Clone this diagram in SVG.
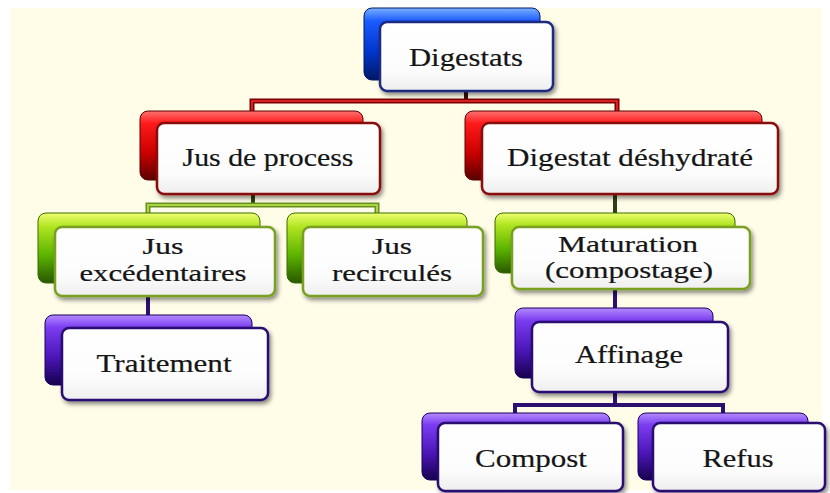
<svg xmlns="http://www.w3.org/2000/svg" width="830" height="493" viewBox="0 0 830 493">
  <defs>
    <linearGradient id="gBlue" x1="0" y1="0" x2="0" y2="1">
      <stop offset="0" stop-color="#7ab0ff"/>
      <stop offset="0.18" stop-color="#1a5cff"/>
      <stop offset="0.6" stop-color="#0036cc"/>
      <stop offset="1" stop-color="#001766"/>
    </linearGradient>
    <linearGradient id="gRed" x1="0" y1="0" x2="0" y2="1">
      <stop offset="0" stop-color="#ff7070"/>
      <stop offset="0.18" stop-color="#ff1a1a"/>
      <stop offset="0.6" stop-color="#cc0000"/>
      <stop offset="1" stop-color="#5a0000"/>
    </linearGradient>
    <linearGradient id="gGreen" x1="0" y1="0" x2="0" y2="1">
      <stop offset="0" stop-color="#eeff70"/>
      <stop offset="0.2" stop-color="#b0e420"/>
      <stop offset="0.6" stop-color="#5cb400"/>
      <stop offset="1" stop-color="#285800"/>
    </linearGradient>
    <linearGradient id="gPurple" x1="0" y1="0" x2="0" y2="1">
      <stop offset="0" stop-color="#b48aff"/>
      <stop offset="0.18" stop-color="#7a3cf0"/>
      <stop offset="0.6" stop-color="#4c16b8"/>
      <stop offset="1" stop-color="#16004e"/>
    </linearGradient>
    <linearGradient id="gWhite" x1="0" y1="0" x2="0" y2="1">
      <stop offset="0" stop-color="#ffffff"/>
      <stop offset="0.7" stop-color="#fcfcfc"/>
      <stop offset="1" stop-color="#eeeeee"/>
    </linearGradient>
    <filter id="sh" x="-10%" y="-10%" width="125%" height="135%">
      <feDropShadow dx="2" dy="3" stdDeviation="2" flood-color="#000" flood-opacity="0.45"/>
    </filter>
    <style>
      .back { stroke-width: 1; }
      .front { fill: url(#gWhite); stroke-width: 2.5; filter: url(#sh); }
      .blue .back { fill: url(#gBlue); stroke: #001a66; }
      .blue .front { stroke: #1a2a80; }
      .red .back { fill: url(#gRed); stroke: #5a0000; }
      .red .front { stroke: #8a0a0a; }
      .green .back { fill: url(#gGreen); stroke: #3a6a00; }
      .green .front { stroke: #7aa020; }
      .purple .back { fill: url(#gPurple); stroke: #1a0060; }
      .purple .front { stroke: #2a1070; }
      text { font-family: "Liberation Serif", "Times New Roman", serif; font-size: 26px; fill: #151515; stroke: #151515; stroke-width: 0.2; text-anchor: middle; }
      text.two { font-size: 23px; }
      .redOuter { fill: none; stroke: #7a0000; stroke-width: 5; }
      .redInner { fill: none; stroke: #d82020; stroke-width: 2; }
      .greenOuter { fill: none; stroke: #6b8e23; stroke-width: 5; }
      .greenInner { fill: none; stroke: #a8d840; stroke-width: 2; }
      .purp { fill: none; stroke: #2b1070; stroke-width: 4; }
      .stemDark { fill: none; stroke: #3a0a0a; stroke-width: 4; }
      .stemGreen { fill: none; stroke: #2e4010; stroke-width: 4; }
    </style>
  </defs>

  <rect x="0" y="0" width="830" height="493" fill="#ffffff"/>
  <rect x="10" y="8" width="812" height="482" fill="#fffde8"/>

  <g id="connectors">
    <path class="stemDark" d="M466 91 V101"/>
    <path class="redOuter" d="M252 113 V101 H617 V113"/>
    <path class="redInner" d="M252 113 V101 H617 V113"/>
    <path class="stemGreen" d="M253 194 V205"/>
    <path class="greenOuter" d="M148 214 V205 H377 V214"/>
    <path class="greenInner" d="M148 214 V205 H377 V214"/>
    <path class="stemGreen" d="M615 194 V214"/>
    <path class="purp" d="M148 296 V316"/>
    <path class="purp" d="M615 289 V309"/>
    <path class="purp" d="M615 392 V405"/>
    <path class="purp" d="M515 414 V405 H723 V414"/>
  </g>

  <g id="digestats" class="blue">
    <rect class="back" x="364" y="8" width="176" height="72" rx="8"/>
    <rect class="front" x="380" y="22" width="173" height="69" rx="7"/>
    <text x="466" y="66" textLength="114" lengthAdjust="spacingAndGlyphs">Digestats</text>
  </g>

  <g id="jus-de-process" class="red">
    <rect class="back" x="140" y="111" width="223" height="69" rx="8"/>
    <rect class="front" x="157" y="123" width="223" height="71" rx="7"/>
    <text x="268" y="166" textLength="171" lengthAdjust="spacingAndGlyphs">Jus de process</text>
  </g>

  <g id="digestat-deshydrate" class="red">
    <rect class="back" x="465" y="111" width="297" height="69" rx="8"/>
    <rect class="front" x="482" y="123" width="296" height="71" rx="7"/>
    <text x="630" y="166" textLength="246" lengthAdjust="spacingAndGlyphs">Digestat déshydraté</text>
  </g>

  <g id="jus-excedentaires" class="green">
    <rect class="back" x="38" y="213" width="222" height="70" rx="8"/>
    <rect class="front" x="55" y="227" width="220" height="69" rx="7"/>
    <text class="two" x="163" y="254" textLength="41" lengthAdjust="spacingAndGlyphs">Jus</text>
    <text class="two" x="163" y="281" textLength="167" lengthAdjust="spacingAndGlyphs">excédentaires</text>
  </g>

  <g id="jus-recircules" class="green">
    <rect class="back" x="287" y="213" width="180" height="70" rx="8"/>
    <rect class="front" x="303" y="227" width="180" height="69" rx="7"/>
    <text class="two" x="392" y="254" textLength="40" lengthAdjust="spacingAndGlyphs">Jus</text>
    <text class="two" x="392" y="281" textLength="120" lengthAdjust="spacingAndGlyphs">recirculés</text>
  </g>

  <g id="maturation" class="green">
    <rect class="back" x="495" y="213" width="240" height="60" rx="8"/>
    <rect class="front" x="512" y="227" width="238" height="62" rx="7"/>
    <text class="two" x="628" y="252" textLength="140" lengthAdjust="spacingAndGlyphs">Maturation</text>
    <text class="two" x="629" y="278" textLength="168" lengthAdjust="spacingAndGlyphs">(compostage)</text>
  </g>

  <g id="traitement" class="purple">
    <rect class="back" x="45" y="315" width="207" height="70" rx="8"/>
    <rect class="front" x="62" y="328" width="206" height="72" rx="7"/>
    <text x="164" y="372" textLength="135" lengthAdjust="spacingAndGlyphs">Traitement</text>
  </g>

  <g id="affinage" class="purple">
    <rect class="back" x="515" y="308" width="198" height="70" rx="8"/>
    <rect class="front" x="532" y="322" width="196" height="70" rx="7"/>
    <text x="629" y="363" textLength="108" lengthAdjust="spacingAndGlyphs">Affinage</text>
  </g>

  <g id="compost" class="purple">
    <rect class="back" x="422" y="413" width="188" height="67" rx="8"/>
    <rect class="front" x="438" y="423" width="185" height="68" rx="7"/>
    <text x="531" y="467" textLength="112" lengthAdjust="spacingAndGlyphs">Compost</text>
  </g>

  <g id="refus" class="purple">
    <rect class="back" x="638" y="413" width="170" height="67" rx="8"/>
    <rect class="front" x="653" y="423" width="172" height="68" rx="7"/>
    <text x="738" y="467" textLength="71" lengthAdjust="spacingAndGlyphs">Refus</text>
  </g>
</svg>
